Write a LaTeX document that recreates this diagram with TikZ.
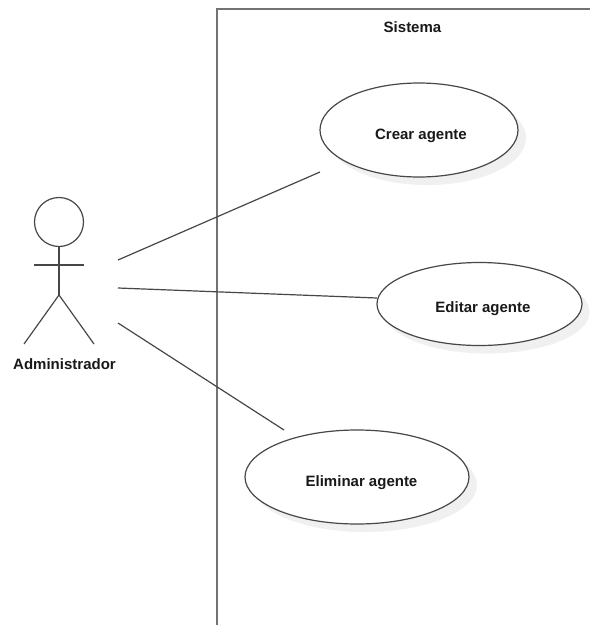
\documentclass[tikz,border=0pt]{standalone}
\usepackage{fontspec}
\setmainfont{Liberation Sans}
\usetikzlibrary{shapes.geometric}
\definecolor{lineink}{gray}{0.28}
\definecolor{shade}{gray}{0.94}
\tikzset{
  uc/.style={ellipse,draw=lineink,line width=1.2pt,fill=white,inner sep=0pt,outer sep=0pt},
  ucshadow/.style={ellipse,fill=shade,inner sep=0pt,outer sep=0pt},
  label/.style={font=\bfseries\fontsize{15}{17}\selectfont,inner sep=0pt,text=black!90},
  wire/.style={draw=lineink,line width=1.2pt},
  frameline/.style={draw=black!55,line width=1.5pt}
}
\begin{document}
\begin{tikzpicture}[x=1pt,y=-1pt]
\useasboundingbox (0,0) rectangle (590,625);
\fill[white] (0,0) rectangle (590,625);
% system frame
\coordinate (fa) at (217,625);
\coordinate (fb) at (217,9);
\coordinate (fc) at (590,9);
\draw[frameline] (fa) -- (fb) -- (fc);
\node[label] (sis) at (412.5,27) {Sistema};
% shadows
\node[ucshadow,minimum width=198pt,minimum height=94pt] (s1) at (427,138) {};
\node[ucshadow,minimum width=205pt,minimum height=83pt] (s2) at (487,312) {};
\node[ucshadow,minimum width=224pt,minimum height=94pt] (s3) at (365,485) {};
% use cases
\node[uc,minimum width=198pt,minimum height=94pt] (crear) at (419,130) {};
\node[uc,minimum width=205pt,minimum height=83pt] (editar) at (479.5,304) {};
\node[uc,minimum width=224pt,minimum height=94pt] (elim) at (357,477) {};
\node[label] (crearT) at (421,135.5) {Crear agente};
\node[label] (editarT) at (483,309) {Editar agente};
\node[label] (elimT) at (361.5,482.5) {Eliminar agente};
% actor
\node[circle,draw=lineink,line width=1.2pt,minimum size=49pt,inner sep=0pt,outer sep=0pt] (head) at (59,222) {};
\coordinate (hip) at (59,295);
\coordinate (armL) at (34,265);
\coordinate (armR) at (84,265);
\coordinate (legL) at (24,344);
\coordinate (legR) at (94,344);
\draw[wire] (head.south) -- (hip);
\draw[wire] (armL) -- (armR);
\draw[wire] (legL) -- (hip) -- (legR);
\node[label] (admin) at (64.5,364) {Administrador};
% connectors
\coordinate (a1) at (118,260);
\coordinate (a2) at (118,288);
\coordinate (a3) at (118,323);
\coordinate (e1) at (320,172);
\coordinate (e2) at (377,298);
\coordinate (e3) at (284,430);
\draw[wire] (a1) -- (e1);
\draw[wire] (a2) -- (e2);
\draw[wire] (a3) -- (e3);
\end{tikzpicture}
\end{document}
